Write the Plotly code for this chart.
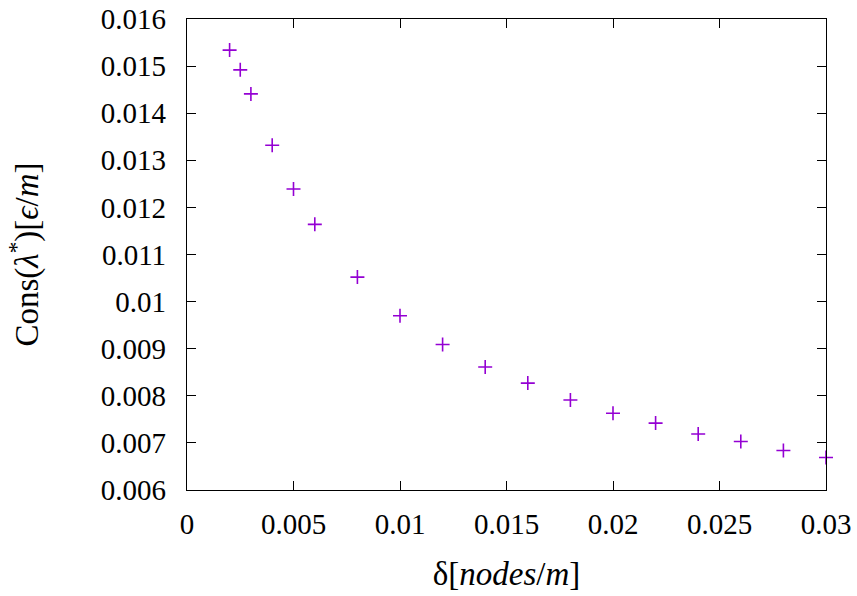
import plotly.graph_objects as go

delta = [0.002, 0.0025, 0.003, 0.004, 0.005, 0.006, 0.008, 0.010, 0.012, 0.014,
         0.016, 0.018, 0.020, 0.022, 0.024, 0.026, 0.028, 0.030]
cons = [0.01534, 0.01492, 0.01441, 0.01332, 0.01239, 0.01164, 0.01052, 0.00970,
        0.00909, 0.00861, 0.00827, 0.00791, 0.00763, 0.00742, 0.00719, 0.00703,
        0.00684, 0.00669]

x_ticks = [0, 0.005, 0.01, 0.015, 0.02, 0.025, 0.03]
x_labels = ["0", "0.005", "0.01", "0.015", "0.02", "0.025", "0.03"]
y_ticks = [0.006, 0.007, 0.008, 0.009, 0.010, 0.011, 0.012, 0.013, 0.014, 0.015, 0.016]
y_labels = ["0.006", "0.007", "0.008", "0.009", "0.01", "0.011", "0.012", "0.013",
            "0.014", "0.015", "0.016"]

font = "Liberation Serif, DejaVu Serif, serif"
fs = 29
fs_title = 33

fig = go.Figure()
fig.add_trace(go.Scatter(
    x=delta, y=cons, mode="markers",
    marker=dict(symbol="cross-thin", size=10, color="#9400D3",
                line=dict(color="#9400D3", width=1.6)),
    showlegend=False, cliponaxis=False,
))

axis_common = dict(
    showgrid=False, zeroline=False, showline=True, linecolor="black", linewidth=1.2,
    mirror="ticks", ticks="inside", ticklen=9, tickwidth=1.2, tickcolor="black",
    tickfont=dict(family=font, size=fs, color="black"), automargin=False,
)

fig.update_xaxes(range=[0, 0.03], tickvals=x_ticks, ticktext=x_labels,
                 ticklabelstandoff=8,
                 title=dict(text="δ[<i>nodes</i>/<i>m</i>]",
                            font=dict(family=font, size=fs_title, color="black"), standoff=22),
                 **axis_common)
fig.update_yaxes(range=[0.006, 0.016], tickvals=y_ticks, ticktext=y_labels,
                 ticklabelstandoff=14,
                 title=dict(text="Cons(<i>λ</i><sup>*</sup>)[<i>ϵ</i>/<i>m</i>]",
                            font=dict(family=font, size=fs_title, color="black"), standoff=52),
                 **axis_common)

fig.update_layout(
    width=857, height=596,
    margin=dict(l=187, r=31, t=19, b=106),
    paper_bgcolor="white", plot_bgcolor="white",
)

fig.write_html("out.html", config={"displayModeBar": False},
               post_script="document.body.style.margin='0';document.body.style.overflow='hidden';")
